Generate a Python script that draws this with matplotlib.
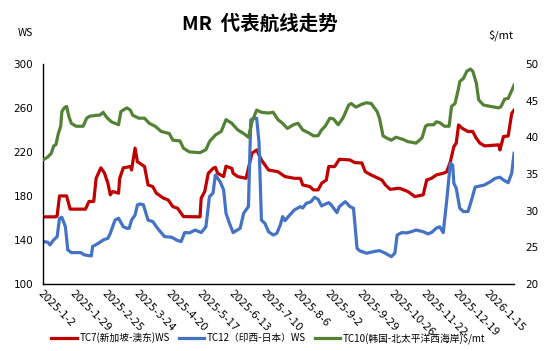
import numpy as np
import pandas as pd
import matplotlib
matplotlib.use("Agg")
import matplotlib.pyplot as plt

plt.rcParams['font.family'] = ['Noto Sans CJK SC', 'DejaVu Sans']

start = pd.Timestamp('2025-01-02')

# days since 2025-01-02
tc7_days = [0, 11, 12, 14, 20, 23, 36, 39, 43, 45, 49, 52, 55, 57, 59, 64, 65, 68, 74, 75,
            78, 80, 82, 86, 89, 93, 96, 102, 106, 110, 114, 119, 133, 134, 137, 140, 144,
            146, 148, 153, 155, 160, 161, 165, 172, 177, 181, 185, 191, 199, 205, 213, 218,
            220, 226, 229, 233, 236, 240, 242, 247, 251, 260, 264, 270, 273, 278, 287, 290,
            294, 302, 309, 315, 322, 325, 329, 333, 339, 342, 345, 348, 350, 352, 355, 360,
            364, 367, 370, 374, 386, 387, 390, 394, 397, 399]
tc7_ws = [161, 161, 162, 180, 180, 168, 168, 175, 175, 196, 205.5, 201, 191.5, 181, 184,
          182.5, 196, 205.5, 206.7, 203.6, 223.4, 211, 209.7, 206.7, 190, 188.5, 182.5, 178,
          176.4, 170.3, 168.8, 161.2, 161, 178, 184, 200.6, 205, 206, 200.6, 197.6, 207, 205,
          200.6, 197.6, 196, 218.8, 221.8, 212.7, 203.6, 202, 197.6, 196, 196, 190, 188.5,
          185.5, 185.5, 191.5, 194.5, 206.7, 206.7, 213.3, 212.7, 210.3, 210, 202, 199,
          194.5, 190, 186, 187, 184, 179.4, 181, 194.5, 196, 199, 200.6, 202, 211, 224.8,
          228, 244.5, 241.5, 238.5, 238.5, 232.4, 228, 225.5, 226.4, 221.8, 234, 234.5, 255,
          258]

tc12_days = [0, 4, 6, 9, 12, 14, 16, 19, 21, 24, 32, 35, 41, 42, 47, 51, 55, 57, 61, 64,
             68, 71, 73, 75, 78, 80, 82, 85, 89, 93, 97, 103, 109, 113, 117, 120, 124, 129,
             134, 138, 141, 144, 146, 150, 153, 155, 158, 161, 167, 170, 172, 174, 176, 178,
             181, 183, 185, 188, 191, 195, 198, 201, 203, 205, 209, 213, 218, 220, 223, 227,
             230, 233, 236, 238, 242, 244, 249, 251, 256, 260, 263, 266, 268, 274, 280, 285,
             290, 295, 298, 300, 304, 308, 312, 316, 322, 326, 329, 333, 336, 339, 342, 345,
             347, 348, 350, 353, 356, 360, 363, 366, 370, 374, 379, 383, 387, 390, 394, 397,
             399]
tc12_ws = [138.5, 138, 135.5, 140, 143, 159.7, 160.5, 152, 131, 128.5, 128.5, 126.4, 125.5,
           134, 137, 140, 141.5, 146, 158, 159.7, 152, 150.6, 150.6, 158, 162.7, 171.8, 172.7,
           172, 158, 156.7, 150.6, 143, 142.5, 140, 138.5, 146.7, 146.4, 149, 146.7, 152,
           179.4, 182.5, 199, 193, 185.5, 164.3, 155, 146.7, 150.6, 164.3, 167.3, 170.3, 249,
           250.6, 250.6, 228, 158, 155, 147.5, 144.5, 145.9, 153.6, 161.2, 157.5, 162.7,
           167.3, 170.3, 169, 173.3, 174.8, 178.8, 177, 170.9, 172, 173.9, 172, 164.8, 170.3,
           174.8, 170.3, 168.8, 132.4, 130.3, 127.9, 129.4, 130.3, 127.9, 124.8, 127.9, 144.5,
           146.7, 146.4, 147.5, 149, 147.5, 145.5, 146.7, 150.6, 152, 146.7, 176.4, 209.7,
           208, 191.5, 187, 168.8, 165.8, 165.8, 176.4, 188, 189, 190, 193, 196, 197, 194.5,
           192, 200.6, 218.8]

tc10_days = [0, 4, 7, 9, 11, 13, 15, 16, 18, 20, 22, 24, 28, 34, 37, 40, 42, 45, 48, 51,
             54, 58, 64, 66, 71, 74, 76, 81, 86, 90, 95, 100, 107, 110, 116, 119, 124, 133,
             138, 141, 146, 151, 155, 160, 161, 165, 170, 174, 177, 181, 185, 191, 195, 199,
             203, 207, 212, 216, 220, 225, 229, 233, 236, 239, 243, 246, 250, 254, 259, 261,
             265, 270, 274, 278, 283, 285, 288, 291, 295, 299, 305, 309, 316, 321, 324, 326,
             331, 333, 336, 340, 344, 346, 349, 352, 353, 356, 359, 362, 364, 367, 369, 373,
             379, 386, 388, 391, 394, 396, 399]
tc10_usd = [36.9, 37.3, 37.8, 38.8, 39.0, 40.5, 41.5, 43.5, 44.0, 44.2, 42.8, 41.9, 41.5,
            41.5, 42.6, 42.9, 42.9, 43.0, 43.0, 43.4, 42.7, 42.1, 41.7, 43.5, 44.0, 43.7,
            43.0, 42.6, 42.6, 41.9, 41.5, 40.8, 40.5, 39.6, 39.5, 38.5, 38.0, 37.9, 38.3,
            39.4, 40.3, 40.8, 42.4, 41.9, 41.7, 41.0, 40.5, 40.0, 42.1, 43.7, 43.4, 43.3,
            43.4, 42.4, 41.9, 41.2, 41.7, 41.9, 41.0, 40.6, 40.2, 40.2, 41.0, 41.5, 42.6,
            42.5, 41.7, 42.6, 44.4, 44.6, 44.1, 44.5, 44.7, 44.6, 43.5, 42.6, 40.2, 39.9,
            39.6, 40.0, 39.7, 39.4, 39.2, 39.9, 41.5, 41.7, 41.7, 42.1, 42.0, 41.5, 41.5,
            44.2, 44.6, 46.7, 47.6, 48.0, 49.0, 49.3, 49.0, 47.4, 45.1, 44.4, 44.2, 44.0,
            44.2, 45.2, 45.3, 46.0, 47.1]

tick_dates = pd.date_range('2025-01-02', periods=15, freq='27D')
tick_labels = [f"{d.year}-{d.month}-{d.day}" for d in tick_dates]

labels = ['TC7(新加坡-澳东)WS', 'TC12（印西-日本）WS', 'TC10(韩国-北太平洋西海岸)$/mt']
colors = ['#C00000', '#4472C4', '#548235']


def to_dates(days):
    return start + pd.to_timedelta(np.array(days), unit='D')


fig = plt.figure(figsize=(5.51, 3.51), dpi=100)
ax = fig.add_axes([0.078, 0.191, 0.855, 0.627])
ax2 = ax.twinx()

l1, = ax.plot(to_dates(tc7_days), tc7_ws, color=colors[0], lw=2.3, solid_joinstyle='round')
l2, = ax.plot(to_dates(tc12_days), tc12_ws, color=colors[1], lw=2.3, solid_joinstyle='round')
l3, = ax2.plot(to_dates(tc10_days), tc10_usd, color=colors[2], lw=2.3, solid_joinstyle='round')

ax.set_xlim(start, start + pd.Timedelta(days=399))
ax.set_ylim(100, 300)
ax.set_yticks(np.arange(100, 301, 40))
ax2.set_ylim(20, 50)
ax2.set_yticks(np.arange(20, 51, 5))

ax.set_xticks(tick_dates)
ax.set_xticklabels(tick_labels, rotation=-45, ha='left', va='top', rotation_mode='anchor',
                   family='DejaVu Sans', fontsize=7)

for a in (ax, ax2):
    for s in ('top', 'right'):
        a.spines[s].set_visible(False)
    a.tick_params(length=0, labelsize=7.5)
ax2.spines['left'].set_visible(False)
ax2.spines['bottom'].set_visible(False)
ax.spines['left'].set_linewidth(1)
ax.spines['bottom'].set_linewidth(1)
ax.tick_params(axis='y', pad=7)
ax2.tick_params(axis='y', pad=8)
for t in ax.get_yticklabels() + ax2.get_yticklabels():
    t.set_family('DejaVu Sans')

fig.text(0.472, 0.932, 'MR  代表航线走势', ha='center', va='center', fontsize=14, fontweight='bold')
fig.text(0.047, 0.905, 'WS', ha='center', va='center', fontsize=7.5)
fig.text(0.909, 0.9, '$/mt', ha='center', va='center', fontsize=8)

fig.legend([l1, l2, l3], labels, loc='center', bbox_to_anchor=(0.487, 0.037), ncol=3,
           frameon=False, fontsize=7, handlelength=2.6, handletextpad=0.3, columnspacing=0.9)

fig.savefig('out.png', dpi=100)
